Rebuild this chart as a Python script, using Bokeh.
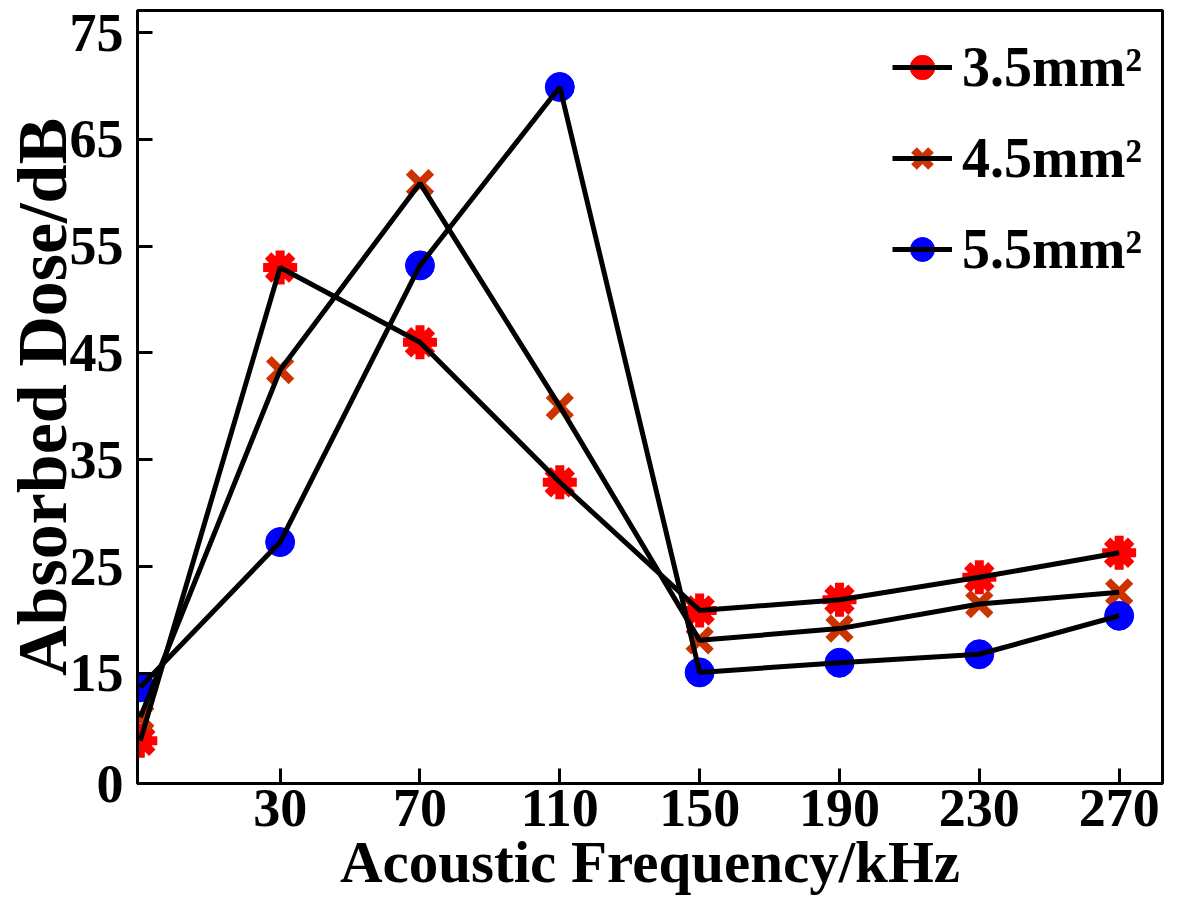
from bokeh.plotting import figure
from bokeh.models import FixedTicker, Legend, LegendItem, ColumnDataSource, Range1d
from bokeh.embed import file_html
from bokeh.resources import INLINE

# ---- data ----
freq_labels = ["0", "30", "70", "110", "150", "190", "230", "270"]
dose_35 = [8.7, 53.0, 46.0, 32.9, 20.9, 21.9, 24.0, 26.3]
dose_45 = [10.9, 43.4, 60.9, 40.0, 18.1, 19.2, 21.5, 22.6]
dose_55 = [13.7, 27.3, 53.2, 69.9, 15.1, 16.0, 16.8, 20.4]
series_names = ["3.5mm\u00b2", "4.5mm\u00b2", "5.5mm\u00b2"]
y_ticks = [15, 25, 35, 45, 55, 65, 75]

pos = list(range(len(freq_labels)))
FONT = "Liberation Serif"

X_RANGE = (-0.02, 7.31)
Y_RANGE = (4.7, 77.06)

p = figure(width=1200, height=920, output_backend="svg", toolbar_location=None,
           x_range=Range1d(*X_RANGE), y_range=Range1d(*Y_RANGE),
           min_border_left=135, min_border_right=38, min_border_top=10,
           min_border_bottom=137)
p.grid.visible = False
p.outline_line_color = "black"
p.outline_line_width = 3
p.background_fill_color = "white"
p.border_fill_color = "white"

# axes
p.xaxis.ticker = FixedTicker(ticks=pos[1:])
p.xaxis.major_label_overrides = {i: freq_labels[i] for i in pos[1:]}
p.yaxis.ticker = FixedTicker(ticks=[Y_RANGE[0]] + y_ticks)
p.yaxis.major_label_overrides = {Y_RANGE[0]: freq_labels[0]}
for ax in (p.xaxis[0], p.yaxis[0]):
    ax.major_tick_in = 15
    ax.major_tick_out = 0
    ax.minor_tick_line_color = None
    ax.major_tick_line_width = 3
    ax.axis_line_width = 3
    ax.major_label_text_font = FONT
    ax.major_label_text_font_style = "bold"
    ax.major_label_text_font_size = "54px"
    ax.major_label_text_color = "black"
    ax.axis_label_text_font = FONT
    ax.axis_label_text_font_style = "bold"
    ax.axis_label_text_color = "black"
p.xaxis.axis_label = "Acoustic Frequency/kHz"
p.xaxis.axis_label_text_font_size = "59px"
p.xaxis.major_label_standoff = 6
p.xaxis.axis_label_standoff = 0
p.yaxis.axis_label = "Absorbed Dose/dB"
p.yaxis.axis_label_text_font_size = "70px"
p.yaxis.major_label_standoff = 14
p.yaxis.axis_label_standoff = -14

src35 = ColumnDataSource(dict(x=pos, y=dose_35))
src45 = ColumnDataSource(dict(x=pos, y=dose_45))
src55 = ColumnDataSource(dict(x=pos, y=dose_55))

# markers
r35a = p.scatter("x", "y", source=src35, marker="circle", size=24, fill_color="#FF0000", line_color="#FF0000")
r35b = p.scatter("x", "y", source=src35, marker="asterisk", size=34, line_color="#FF0000", line_width=9)
r45 = p.scatter("x", "y", source=src45, marker="x", size=32, line_color="#CC3300", line_width=8)
r55 = p.scatter("x", "y", source=src55, marker="circle", size=29, fill_color="#0000FF", line_color="#0000FF")

# lines on top
l35 = p.line("x", "y", source=src35, line_color="black", line_width=5)
l45 = p.line("x", "y", source=src45, line_color="black", line_width=5)
l55 = p.line("x", "y", source=src55, line_color="black", line_width=5)

legend = Legend(items=[
    LegendItem(label=series_names[0], renderers=[r35a, r35b, l35]),
    LegendItem(label=series_names[1], renderers=[r45, l45]),
    LegendItem(label=series_names[2], renderers=[r55, l55]),
], location=(755, 502))
legend.border_line_color = None
legend.background_fill_alpha = 0
legend.label_text_font = FONT
legend.label_text_font_style = "bold"
legend.label_text_font_size = "56px"
legend.label_text_color = "black"
legend.glyph_width = 60
legend.glyph_height = 60
legend.label_height = 60
legend.label_standoff = 10
legend.spacing = 27
legend.padding = 0
legend.margin = 0
p.add_layout(legend)

open("out.html", "w").write(file_html(p, INLINE))
